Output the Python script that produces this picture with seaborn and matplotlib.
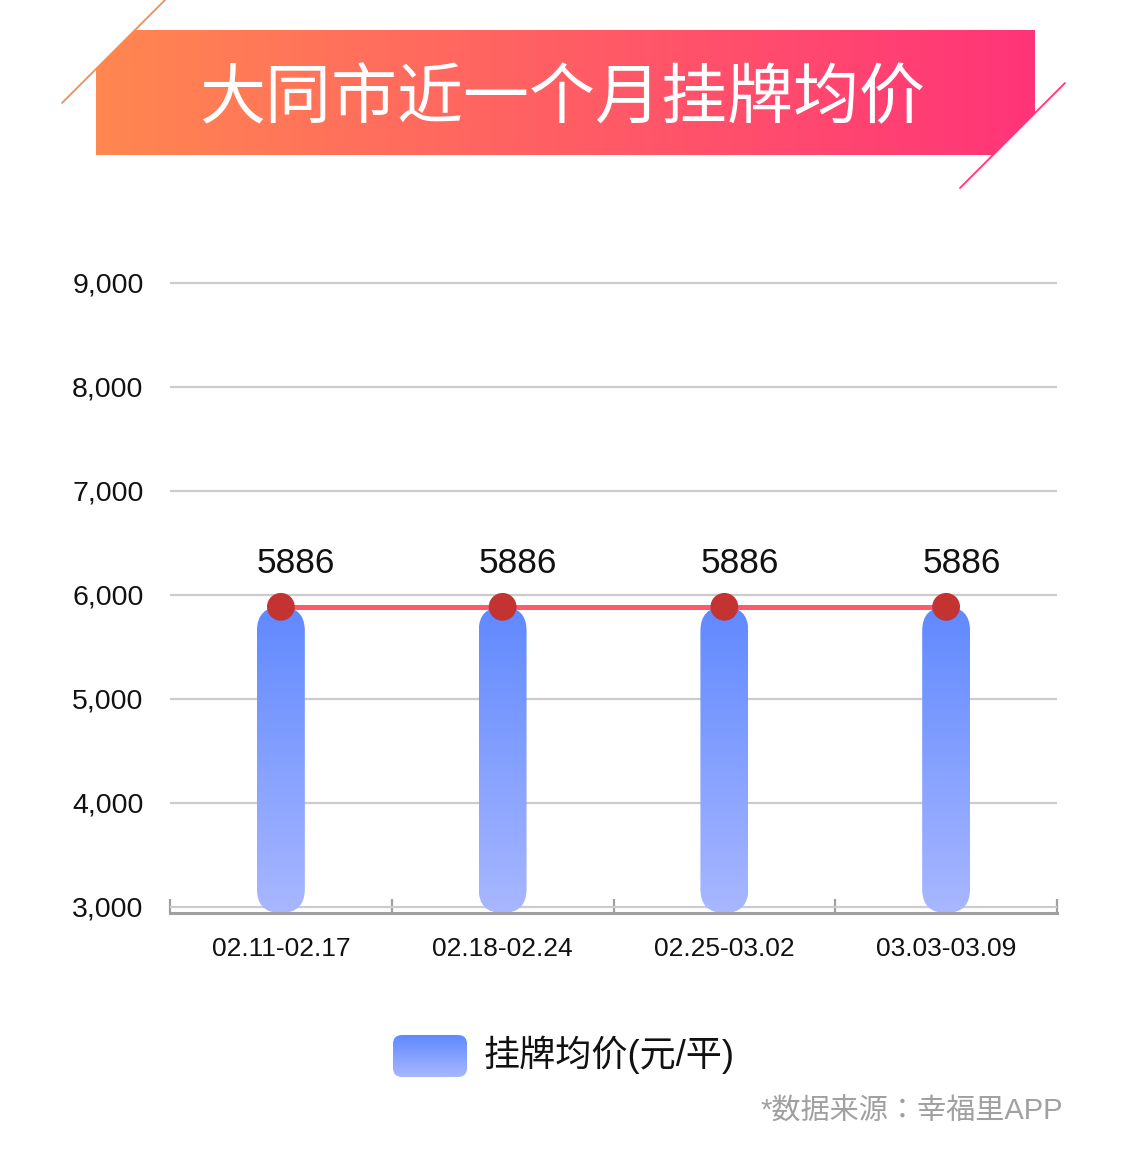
#!/usr/bin/env python3
import numpy as np
import pandas as pd
import seaborn as sns
from matplotlib import pyplot as plt
from matplotlib.colors import LinearSegmentedColormap
from matplotlib.patches import FancyBboxPatch, Polygon

# data
weeks = ["02.11-02.17", "02.18-02.24", "02.25-03.02", "03.03-03.09"]
prices = [5886, 5886, 5886, 5886]
y_ticks = [3000, 4000, 5000, 6000, 7000, 8000, 9000]
title = "大同市近一个月挂牌均价"
legend_label = "挂牌均价(元/平)"
source = "*数据来源：幸福里APP"

W, H = 1125, 1152
BAR_TOP = "#6089ff"
BAR_BOTTOM = "#a8b7ff"
LINE_RED = "#ff5a6c"
DOT_RED = "#c33331"
BANNER_LEFT = "#ff8750"
BANNER_RIGHT = "#ff3479"

sns.set_theme(style="white")
plt.rcParams["font.family"] = ["Liberation Sans", "Noto Sans CJK SC"]

fig = plt.figure(figsize=(W / 100, H / 100), dpi=100)


def px_axes(x0, y0, x1, y1):
    """Add axes placed by pixel box (top-left origin)."""
    return fig.add_axes([x0 / W, 1 - y1 / H, (x1 - x0) / W, (y1 - y0) / H])


ax = px_axes(170, 273, 1057, 913)
df = pd.DataFrame({"week": weeks, "price": prices})
sns.barplot(data=df, x="week", y="price", ax=ax, width=0.216, color=BAR_TOP)

ylim = (2942, 9096)
ax.set_xlim(-0.5, len(weeks) - 0.5)
ax.set_ylim(*ylim)

# replace plain bars by gradient capsules
p0 = ax.transData.transform((0, 0))
p1 = ax.transData.transform((1, 1000))
aspect = (p1[0] - p0[0]) / ((p1[1] - p0[1]) / 1000)
bar_cmap = LinearSegmentedColormap.from_list("bar", [BAR_BOTTOM, BAR_TOP])
grad_v = np.linspace(1, 0, 256).reshape(-1, 1)
base = ylim[0]
for patch, v in zip(list(ax.patches), prices):
    x, w = patch.get_x(), patch.get_width()
    patch.remove()
    box = FancyBboxPatch((x, base), w, v - base,
                         boxstyle=f"round,pad=0,rounding_size={w / 2}",
                         mutation_aspect=aspect, fc="none", ec="none")
    ax.add_patch(box)
    im = ax.imshow(grad_v, extent=[x, x + w, base, v], origin="upper",
                   cmap=bar_cmap, aspect="auto", zorder=2)
    im.set_clip_path(box)

xs = np.arange(len(weeks))
sns.lineplot(x=xs, y=prices, ax=ax, color=LINE_RED, lw=3.6, zorder=4)
sns.scatterplot(x=xs, y=prices, ax=ax, s=400, color=DOT_RED,
                edgecolor="none", zorder=5)
for i, v in enumerate(prices):
    ax.annotate(f"{v}", (i, v), xytext=(11, 31), textcoords="offset points",
                ha="center", va="center", fontsize=25.5, color="#111111")

ax.set_xlim(-0.5, len(weeks) - 0.5)
ax.set_ylim(*ylim)
ax.set_xticks(xs)
ax.set_xticklabels(weeks)
ax.set_xticks(np.arange(-0.5, len(weeks), 1), minor=True)
ax.set_yticks(y_ticks)
ax.set_yticklabels([f"{t:,}" for t in y_ticks])
ax.set_xlabel("")
ax.set_ylabel("")
ax.yaxis.grid(True, color="#cccccc", lw=1.6)
ax.xaxis.grid(False)
ax.set_axisbelow(True)
for side in ["left", "top", "right"]:
    ax.spines[side].set_visible(False)
ax.spines["bottom"].set_color("#a0a0a0")
ax.spines["bottom"].set_linewidth(2.2)
ax.tick_params(axis="x", which="major", bottom=False, length=0, pad=17,
               labelsize=19, labelcolor="#111111")
ax.tick_params(axis="x", which="minor", bottom=True, direction="in",
               length=10, width=1.6, color="#a0a0a0")
ax.tick_params(axis="y", left=False, length=0, pad=19, labelsize=20.5,
               labelcolor="#111111")

# overlay in pixel coordinates: banner, legend, source
bax = fig.add_axes([0, 0, 1, 1])
bax.set_xlim(0, W)
bax.set_ylim(H, 0)
bax.axis("off")

banner = Polygon([(135, 30), (1035, 30), (1035, 113), (993, 155),
                  (96, 155), (96, 69)], closed=True, fc="none", ec="none")
bax.add_patch(banner)
banner_cmap = LinearSegmentedColormap.from_list("banner",
                                                [BANNER_LEFT, BANNER_RIGHT])
im = bax.imshow(np.linspace(0, 1, 256).reshape(1, -1),
                extent=[96, 1035, 155, 30], cmap=banner_cmap, aspect="auto")
im.set_clip_path(banner)
bax.plot([62, 165], [103, 0], color=BANNER_LEFT, lw=1.3)
bax.plot([960, 1065], [188, 83], color=BANNER_RIGHT, lw=1.3)
bax.text(562, 99, title, color="white", fontsize=47.5, ha="center",
         va="center", family=["Noto Sans CJK SC"])

swatch = FancyBboxPatch((393, 1035), 74, 42,
                        boxstyle="round,pad=0,rounding_size=9",
                        fc="none", ec="none")
bax.add_patch(swatch)
im = bax.imshow(grad_v, extent=[393, 467, 1077, 1035], origin="upper",
                cmap=bar_cmap, aspect="auto")
im.set_clip_path(swatch)
bax.text(484, 1055, legend_label, fontsize=26, ha="left", va="center",
         color="#111111")
bax.text(1063, 1112, source, fontsize=21, ha="right", va="center",
         color="#a0a0a0", family=["Liberation Sans", "Noto Sans CJK JP"])
bax.set_xlim(0, W)
bax.set_ylim(H, 0)

fig.savefig("out.png", dpi=100)
